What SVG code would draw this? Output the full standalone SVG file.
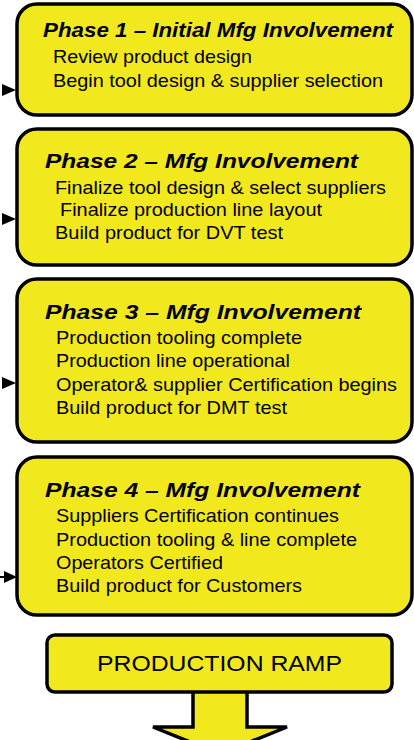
<svg xmlns="http://www.w3.org/2000/svg" width="414" height="740" viewBox="0 0 414 740">
<defs>
<style>
.box{fill:#f2e81e;stroke:#000;stroke-width:3.5}
.t{font-family:"Liberation Sans",Arial,sans-serif;font-weight:bold;font-style:italic;font-size:20.5px;fill:#000}
.b{font-family:"Liberation Sans",Arial,sans-serif;font-size:18.5px;fill:#000}
.r{font-family:"Liberation Sans",Arial,sans-serif;font-size:22.5px;fill:#000}
.ah{fill:#000}
</style>
</defs>
<rect width="414" height="740" fill="#fff"/>
<g id="connectors">
<polygon class="ah" points="2,84 16,90 2,96"/>
<polygon class="ah" points="2,213 16,219 2,225"/>
<polygon class="ah" points="2,377 16,383 2,389"/>
<line x1="0" y1="577" x2="8" y2="577" stroke="#000" stroke-width="2"/>
<polygon class="ah" points="4,571 17,577 4,583"/>
<path class="box" d="M193,692 V727 H153 L220,754 L287,727 H247 V692"/>
</g>
<g id="phase1">
<rect class="box" x="17" y="4" width="395" height="111" rx="20"/>
<text class="t" x="43" y="37" font-size="19" textLength="350" lengthAdjust="spacingAndGlyphs">Phase 1 – Initial Mfg Involvement</text>
<text class="b" x="53" y="63" textLength="199" lengthAdjust="spacingAndGlyphs">Review product design</text>
<text class="b" x="53" y="87" textLength="330" lengthAdjust="spacingAndGlyphs">Begin tool design &amp; supplier selection</text>
</g>
<g id="phase2">
<rect class="box" x="17" y="129" width="395" height="136" rx="20"/>
<text class="t" x="45" y="168" textLength="313" lengthAdjust="spacingAndGlyphs">Phase 2 – Mfg Involvement</text>
<text class="b" x="55" y="194" textLength="331" lengthAdjust="spacingAndGlyphs">Finalize tool design &amp; select suppliers</text>
<text class="b" x="60" y="216" textLength="262" lengthAdjust="spacingAndGlyphs">Finalize production line layout</text>
<text class="b" x="55" y="239" textLength="228" lengthAdjust="spacingAndGlyphs">Build product for DVT test</text>
</g>
<g id="phase3">
<rect class="box" x="17" y="279" width="395" height="163" rx="20"/>
<text class="t" x="45" y="319" textLength="316" lengthAdjust="spacingAndGlyphs">Phase 3 – Mfg Involvement</text>
<text class="b" x="56" y="344" textLength="246" lengthAdjust="spacingAndGlyphs">Production tooling complete</text>
<text class="b" x="56" y="367" textLength="234" lengthAdjust="spacingAndGlyphs">Production line operational</text>
<text class="b" x="56" y="391" textLength="341" lengthAdjust="spacingAndGlyphs">Operator&amp; supplier Certification begins</text>
<text class="b" x="56" y="414" textLength="231" lengthAdjust="spacingAndGlyphs">Build product for DMT test</text>
</g>
<g id="phase4">
<rect class="box" x="17" y="457" width="395" height="158" rx="20"/>
<text class="t" x="45" y="497" textLength="315" lengthAdjust="spacingAndGlyphs">Phase 4 – Mfg Involvement</text>
<text class="b" x="56" y="522" textLength="283" lengthAdjust="spacingAndGlyphs">Suppliers Certification continues</text>
<text class="b" x="56" y="546" textLength="301" lengthAdjust="spacingAndGlyphs">Production tooling &amp; line complete</text>
<text class="b" x="56" y="569" textLength="167" lengthAdjust="spacingAndGlyphs">Operators Certified</text>
<text class="b" x="56" y="592" textLength="246" lengthAdjust="spacingAndGlyphs">Build product for Customers</text>
</g>
<g id="ramp">
<rect class="box" x="47" y="635" width="345" height="57" rx="8"/>
<text class="r" x="97" y="671" textLength="245" lengthAdjust="spacingAndGlyphs">PRODUCTION RAMP</text>
</g>
</svg>
